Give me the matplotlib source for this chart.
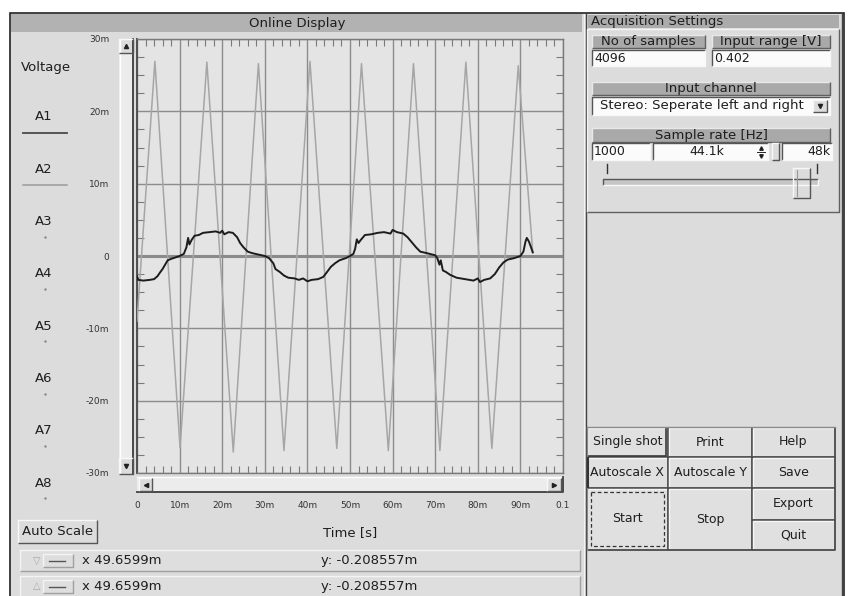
import matplotlib
matplotlib.use('Agg')
import matplotlib.pyplot as plt
from matplotlib.patches import Rectangle
import numpy as np

W, H = 848, 596

# ---- data (time in ms, voltage in mV) ----
# A2: triangle wave, corner points
peak_t = [4.2, 16.4, 28.5, 40.6, 52.7, 64.9, 77.2, 89.5]
peak_v = [26.9, 26.8, 26.6, 26.9, 26.6, 26.6, 26.8, 26.3]
trough_t = [10.1, 22.6, 34.5, 46.9, 59.0, 71.1, 83.3]
trough_v = [-26.5, -27.1, -26.9, -26.6, -26.9, -26.9, -26.6]
a2_first = [0.0, -9.0]
a2_last = [92.9, 0.5]

# A1: slow, noisy square-ish wave
a1_t = [0, 0.3, 1.5, 3.0, 4.0, 4.8, 5.5, 6.0, 6.5, 7.2, 8.0, 9.0, 10.0, 11.0,
        11.6, 12.0, 12.3, 12.8, 13.5, 14.5, 15.5, 17.0, 18.5, 19.5, 20.0, 20.5,
        21.5, 22.5, 23.5, 24.2, 25.0, 26.0, 27.0, 28.5, 30.0, 31.0, 32.0, 32.5,
        33.5, 34.5, 35.5, 37.0, 38.0, 39.0, 40.0, 41.0, 42.5, 43.7, 44.5, 45.5,
        46.5, 47.5, 49.0, 50.0, 50.8, 51.2, 51.6, 52.0, 52.5, 53.5, 55.0, 56.5,
        58.0, 59.5, 60.0, 61.0, 62.5, 63.5, 64.5, 65.5, 66.5, 68.0, 70.0, 70.5,
        71.0, 71.3, 71.8, 72.5, 73.5, 75.0, 77.0, 79.0, 80.0, 80.5, 81.5, 82.9,
        84.0, 85.0, 86.0, 87.0, 88.5, 90.0, 90.7, 91.2, 91.5, 92.0, 92.5, 92.9]
a1_v = [-2.8, -3.3, -3.4, -3.3, -3.2, -2.8, -2.2, -1.8, -1.3, -0.6, -0.4, -0.2, 0.0, 0.3,
        1.2, 2.5, 1.6, 2.2, 2.8, 2.9, 3.2, 3.3, 3.4, 3.2, 3.5, 3.0,
        3.3, 3.2, 2.6, 1.8, 1.2, 0.6, 0.4, 0.2, 0.0, -0.3, -1.0, -1.8,
        -2.2, -2.7, -3.0, -3.1, -3.3, -3.1, -3.5, -3.3, -3.2, -2.9, -2.3, -1.5,
        -1.0, -0.6, -0.3, 0.0, 0.3, 1.0, 2.3, 1.8, 2.2, 2.9, 3.0, 3.2,
        3.3, 3.1, 3.6, 3.3, 3.1, 2.6, 1.9, 1.2, 0.6, 0.4, 0.1, -0.3,
        -1.2, -0.6, -2.0, -2.2, -2.6, -3.0, -3.2, -3.4, -3.1, -3.6, -3.3, -3.1,
        -2.5, -1.6, -0.9, -0.5, -0.3, 0.0, 0.6, 2.0, 2.5, 2.0, 1.2, 0.5]

x_ticks = [0, 10, 20, 30, 40, 50, 60, 70, 80, 90, 100]
x_labels = ['0', '10m', '20m', '30m', '40m', '50m', '60m', '70m', '80m', '90m', '0.1']
y_ticks = [-30, -20, -10, 0, 10, 20, 30]
y_labels = ['-30m', '-20m', '-10m', '0', '10m', '20m', '30m']
channels = ['A1', 'A2', 'A3', 'A4', 'A5', 'A6', 'A7', 'A8']

pts = sorted(zip(peak_t + trough_t, peak_v + trough_v))
a2_t = [a2_first[0]] + [p[0] for p in pts] + [a2_last[0]]
a2_v = [a2_first[1]] + [p[1] for p in pts] + [a2_last[1]]

BG = '#dcdcdc'
PLOT_BG = '#e4e4e4'
HEAD = '#b2b2b2'
TXT = '#1e1e1e'

fig = plt.figure(figsize=(W / 100, H / 100), dpi=100)
fig.patch.set_facecolor('white')
bg = fig.add_axes([0, 0, 1, 1])
bg.set_xlim(0, W)
bg.set_ylim(H, 0)
bg.axis('off')


def rect(x0, y0, x1, y1, fc, ec='none', lw=1.0, **kw):
    bg.add_patch(Rectangle((x0, y0), x1 - x0, y1 - y0, fc=fc, ec=ec, lw=lw, **kw))


def bevel(x0, y0, x1, y1, fc=BG, raised=True, lw=1.0, hi='#f8f8f8', lo='#555555'):
    rect(x0, y0, x1, y1, fc)
    if not raised:
        hi, lo = lo, hi
    bg.plot([x0, x0, x1], [y1, y0, y0], color=hi, lw=lw, solid_capstyle='butt')
    bg.plot([x0, x1, x1], [y1, y1, y0], color=lo, lw=lw, solid_capstyle='butt')


def label(x, y, s, size=9.5, ha='center', color=TXT):
    bg.text(x, y, s, ha=ha, va='center', fontsize=size, color=color)


# outer frame and panels
rect(10, 13, 844, 600, BG, ec='#222222', lw=1.2)
rect(11, 14, 582, 32, HEAD)
label(297, 23, 'Online Display')
bg.plot([584, 584], [14, 596], color='#f4f4f4', lw=0.8)
bg.plot([586, 586], [14, 596], color='#444444', lw=1.0)
bg.plot([842, 842], [14, 596], color='#444444', lw=1.0)

# left legend
label(46, 67, 'Voltage')
for i, ch in enumerate(channels):
    yy = 117 + i * 52.3
    label(44, yy, ch)
    if i == 0:
        bg.plot([23, 67], [yy + 16, yy + 16], color='#4a4a4a', lw=1.3)
    elif i == 1:
        bg.plot([23, 67], [yy + 16, yy + 16], color='#9a9a9a', lw=1.1)
    else:
        bg.plot([45], [yy + 15], marker='.', ms=1.5, color='#888888')

# vertical scrollbar
rect(119, 39, 133, 474, '#ececec')
bg.plot([120, 120], [39, 474], color='white', lw=1)
bg.plot([133, 133], [39, 474], color='#3c3c3c', lw=1.3)
bevel(119, 39, 133, 53)
bg.plot([126], [46], marker='^', ms=3, color='#222222')
bevel(119, 458, 133, 474)
bg.plot([126], [466], marker='v', ms=3, color='#222222')

# horizontal scrollbar
rect(137, 477, 563, 492, '#ececec')
bg.plot([137, 563], [477, 477], color='white', lw=1)
bg.plot([137, 563, 563], [492, 492, 477], color='#3c3c3c', lw=1.3)
bevel(139, 478, 152, 491)
bg.plot([145.5], [484.5], marker='<', ms=3, color='#222222')
bevel(547, 478, 561, 491)
bg.plot([554], [484.5], marker='>', ms=3, color='#222222')

# auto scale button and cursor rows
bevel(18, 520, 97, 543)
label(57.5, 531.5, 'Auto Scale')
for k, (yt, sym) in enumerate([(550, '\u25bd'), (576, '\u25b3')]):
    bevel(20, yt, 580, yt + 21, fc='#dedede', hi='#f4f4f4', lo='#a0a0a0')
    label(37, yt + 10.5, sym, size=7, color='#a8a8a8')
    bevel(43, yt + 4, 73, yt + 17, fc='#dedede', hi='#f4f4f4', lo='#a0a0a0')
    bg.plot([49, 65], [yt + 10.5, yt + 10.5], color='#555555', lw=1)
    label(82, yt + 10.5, 'x 49.6599m', size=9.5, ha='left')
    label(321, yt + 10.5, 'y: -0.208557m', size=9.5, ha='left')

# right panel: acquisition settings
rect(588, 15, 839, 28, '#ababab')
label(591, 21.5, 'Acquisition Settings', ha='left')
bevel(587, 29, 839, 212, fc=BG, hi='#f4f4f4', lo='#606060')

bevel(592, 35, 705, 48, fc='#a9a9a9', hi='#e8e8e8', lo='#606060')
label(648, 41.5, 'No of samples')
bevel(712, 35, 830, 48, fc='#a9a9a9', hi='#e8e8e8', lo='#606060')
label(771, 41.5, 'Input range [V]')
bevel(592, 50, 705, 66, fc='#fbfbfb', raised=False)
label(594, 58, '4096', ha='left', size=9)
bevel(712, 50, 830, 66, fc='#fbfbfb', raised=False)
label(714, 58, '0.402', ha='left', size=9)

bevel(592, 82, 830, 95, fc='#a9a9a9', hi='#e8e8e8', lo='#606060')
label(711, 88.5, 'Input channel')
bevel(592, 97, 830, 115, fc='#fbfbfb', raised=False)
label(600, 106, 'Stereo: Seperate left and right', ha='left', size=9.5)
bevel(813, 100, 827, 112)
bg.plot([820], [106], marker='v', ms=3, color='#222222')

bevel(592, 128, 830, 142, fc='#a9a9a9', hi='#e8e8e8', lo='#606060')
label(711, 135, 'Sample rate [Hz]')
bevel(592, 143, 650, 160, fc='#fbfbfb', raised=False)
label(594, 151.5, '1000', ha='left', size=9)
bevel(653, 143, 768, 160, fc='#fbfbfb', raised=False)
label(707, 151.5, '44.1k', size=9)
bg.plot([761], [148], marker='^', ms=2.5, color='#222222')
bg.plot([761], [155.5], marker='v', ms=2.5, color='#222222')
bg.plot([757, 765], [152, 152], color='#222222', lw=0.7)
bevel(772, 143, 779, 160)
bevel(782, 143, 832, 160, fc='#fbfbfb', raised=False)
label(830, 151.5, '48k', ha='right', size=9)

bg.plot([607, 607], [164, 173], color='#333333', lw=1)
bg.plot([817, 817], [164, 173], color='#333333', lw=1)
bevel(603, 179, 818, 185, fc='#c6c6c6', raised=False)
bevel(793, 168, 810, 198)
bg.plot([797, 797], [170, 196], color='#9a9a9a', lw=0.8)

# button grid
buttons = [('Single shot', 587, 427, 668, 457), ('Print', 668, 427, 752, 457),
           ('Help', 752, 427, 835, 457), ('Autoscale X', 587, 457, 668, 488),
           ('Autoscale Y', 668, 457, 752, 488), ('Save', 752, 457, 835, 488),
           ('Start', 587, 488, 668, 550), ('Stop', 668, 488, 752, 550),
           ('Export', 752, 488, 835, 520), ('Quit', 752, 520, 835, 550)]
for name, x0, y0, x1, y1 in buttons:
    rect(x0, y0, x1, y1, '#e0e0e0')
for name, x0, y0, x1, y1 in buttons:
    bg.plot([x0 + 1, x0 + 1, x1 - 1], [y1 - 1, y0 + 1, y0 + 1], color='#f6f6f6', lw=1.0)
    bg.plot([x0, x1, x1], [y1, y1, y0], color='#4a4a4a', lw=1.3, solid_capstyle='butt')
    label((x0 + x1) / 2, (y0 + y1) / 2, name, size=9)
bg.plot([587, 835], [427, 427], color='#8a8a8a', lw=1.0)
bg.plot([587, 587], [427, 550], color='#8a8a8a', lw=1.0)
rect(591, 492, 664, 546, 'none', ec='#333333', lw=0.9, ls=(0, (3, 2)))
bg.plot([588, 588], [458, 487], color='#333333', lw=1.5)
bg.plot([589, 666, 666], [456, 456, 429], color='#3a3a3a', lw=1.2)

# ---- plot area ----
ax = fig.add_axes([137 / W, 1 - 473 / H, (563 - 137) / W, (473 - 39) / H])
ax.set_facecolor(PLOT_BG)
ax.axhline(0, color='#8a8a8a', lw=2.2, zorder=2)
ax.plot(a2_t, a2_v, color='#a6a6a6', lw=1.1, zorder=3)
ax.plot(a1_t, a1_v, color='#1c1c1c', lw=1.4, zorder=4)
ax.set_xlim(0, 100)
ax.set_ylim(-30, 30)
ax.set_xticks(x_ticks)
ax.set_xticklabels(x_labels, fontsize=6.5, color='#333333')
ax.set_yticks(y_ticks)
ax.set_yticklabels(y_labels, fontsize=6.5, color='#333333')
ax.set_xticks(np.arange(0, 101, 2), minor=True)
ax.set_yticks(np.arange(-30, 30.1, 2.5), minor=True)
ax.grid(True, which='major', color='#8c8c8c', lw=1.0)
ax.tick_params(which='major', length=0)
ax.tick_params(axis='x', which='major', pad=20)
ax.tick_params(axis='y', which='major', pad=20)
ax.tick_params(which='minor', direction='in', length=5, width=0.8, color='#7a7a7a',
               top=True, right=True, bottom=True, left=True)
for s in ax.spines.values():
    s.set_color('#7a7a7a')
    s.set_linewidth(1.0)
ax.spines['left'].set_color('#505050')
ax.spines['left'].set_linewidth(1.4)
ax.set_xlabel('Time [s]', fontsize=9.5, color=TXT)
ax.xaxis.set_label_coords(0.5, -0.122)

fig.savefig('out.png', dpi=100)
